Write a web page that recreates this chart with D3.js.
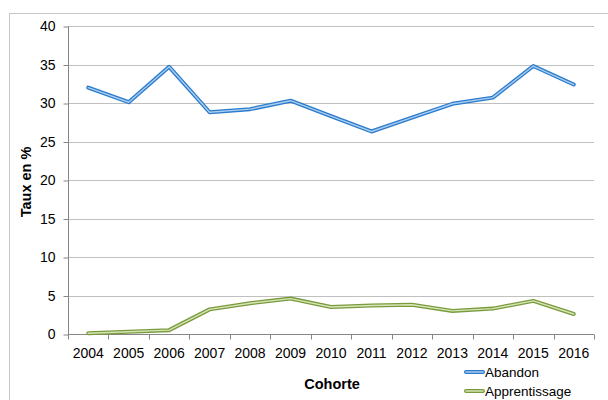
<!DOCTYPE html>
<html><head><meta charset="utf-8">
<script src="https://cdn.jsdelivr.net/npm/d3@7"></script>
<style>html,body{margin:0;padding:0;background:#fff;}svg{display:block;font-family:"Liberation Sans",Arial,sans-serif;}</style>
</head><body>
<svg id="c" width="608" height="400"></svg>
<script>
const categories = ["2004","2005","2006","2007","2008","2009","2010","2011","2012","2013","2014","2015","2016"];
const abandon = [32.0,30.1,34.7,28.8,29.2,30.3,28.3,26.3,28.1,29.9,30.7,34.8,32.4];
const apprentissage = [0.1,0.3,0.5,3.2,4.0,4.6,3.5,3.7,3.8,3.0,3.3,4.3,2.6];
const yTicks = [0,5,10,15,20,25,30,35,40];
const seriesNames = ["Abandon","Apprentissage"];

const svg = d3.select("#c");
svg.append("rect").attr("x",9.5).attr("y",13.5).attr("width",620).attr("height",420)
  .attr("fill","none").attr("stroke","#c6c6c6");

const L=68, R=594, T=26, B=334;
const x = d3.scaleBand().domain(categories).range([L,R]);
const y = d3.scaleLinear().domain([0,40]).range([B,T]);

svg.append("g").selectAll("line").data(yTicks.filter(d=>d>0)).join("line")
  .attr("x1",L).attr("x2",R).attr("y1",d=>Math.round(y(d))+0.5).attr("y2",d=>Math.round(y(d))+0.5)
  .attr("stroke","#c0c0c0").attr("stroke-width",1);

const ya = svg.append("g").attr("transform",`translate(${L+0.5},0.5)`)
  .call(d3.axisLeft(y).tickValues(yTicks).tickSize(5).tickPadding(8).tickFormat(d3.format("d")));
ya.select(".domain").attr("stroke","#868686").attr("d",`M0,${B}V${T}`);
ya.selectAll(".tick line").attr("stroke","#868686");
ya.selectAll("text").attr("font-size",14).attr("fill","#000").attr("font-family","Liberation Sans, Arial, sans-serif");

const xa = svg.append("g").attr("transform",`translate(0,${B+0.5})`);
xa.append("line").attr("x1",L).attr("x2",R).attr("stroke","#868686");
const bounds = categories.map(c=>x(c)).concat([R]);
xa.selectAll(".tk").data(bounds).join("line").attr("class","tk")
  .attr("x1",d=>Math.round(d)+0.5).attr("x2",d=>Math.round(d)+0.5).attr("y1",0).attr("y2",5)
  .attr("stroke","#868686");
xa.selectAll("text").data(categories).join("text")
  .attr("x",d=>x(d)+x.bandwidth()/2).attr("y",23.5).attr("text-anchor","middle")
  .attr("font-size",14).attr("fill","#000").text(d=>d);

const line = d3.line().x((d,i)=>x(categories[i])+x.bandwidth()/2).y(d=>y(d));
const styles = [
  {data:abandon, outer:"#2a7bcc", inner:"#a9cdf0"},
  {data:apprentissage, outer:"#7a9a3e", inner:"#d6e5b4"}
];
styles.forEach(s=>{
  svg.append("path").attr("d",line(s.data)).attr("fill","none").attr("stroke",s.outer)
    .attr("stroke-width",4).attr("stroke-linejoin","round").attr("stroke-linecap","round");
  svg.append("path").attr("d",line(s.data)).attr("fill","none").attr("stroke",s.inner)
    .attr("stroke-width",1.4).attr("stroke-linejoin","round").attr("stroke-linecap","round");
});

svg.append("text").attr("x",332).attr("y",389).attr("text-anchor","middle")
  .attr("font-size",14.5).attr("font-weight","bold").text("Cohorte");
svg.append("text").attr("transform","translate(31,182) rotate(-90)").attr("text-anchor","middle")
  .attr("font-size",14.5).attr("font-weight","bold").text("Taux en %");

const lg = svg.append("g");
seriesNames.forEach((n,i)=>{
  const yy = 372 + i*19;
  lg.append("line").attr("x1",466).attr("x2",483).attr("y1",yy).attr("y2",yy)
    .attr("stroke",styles[i].outer).attr("stroke-width",4).attr("stroke-linecap","round");
  lg.append("line").attr("x1",466).attr("x2",483).attr("y1",yy).attr("y2",yy)
    .attr("stroke",styles[i].inner).attr("stroke-width",1.4).attr("stroke-linecap","round");
  lg.append("text").attr("x",485).attr("y",yy+5).attr("font-size",13.5).attr("fill","#000").text(n);
});
</script>
</body></html>
